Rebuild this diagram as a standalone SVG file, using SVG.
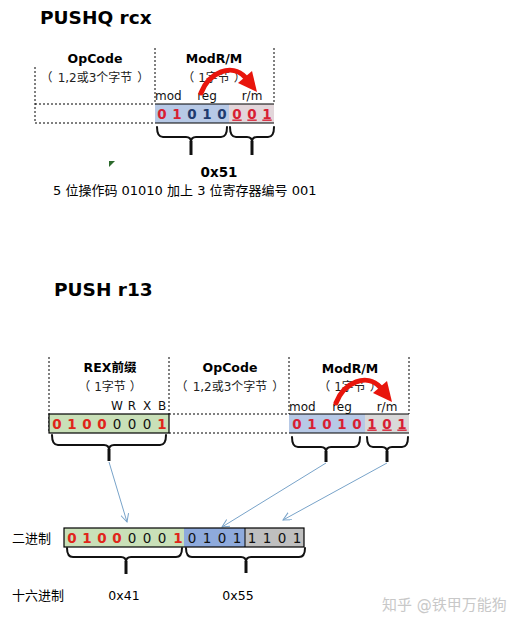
<svg xmlns="http://www.w3.org/2000/svg" width="523" height="628" viewBox="0 0 523 628">
<defs>
<style>
.t{font-family:"DejaVu Sans","Noto Sans CJK SC",sans-serif;fill:#000}
.title{font-size:18.5px;font-weight:bold}
.hd{font-size:12.5px;font-weight:bold;text-anchor:middle}
.sub{font-size:12px;text-anchor:middle;fill:#222}
.p{font-family:"Noto Sans CJK SC",sans-serif}
.lab{font-size:12px;fill:#111}
.bit{font-size:13.5px;font-weight:bold;text-anchor:middle}
.bitr{font-size:13.5px;text-anchor:middle;fill:#111}
.red{fill:#d81f33}
.rex{fill:#e0261a}
.dblue{fill:#1f3b6e}
.u{text-decoration:underline}
.dot{stroke:#000;stroke-width:1;stroke-dasharray:2,2;fill:none}
.box{stroke:#000;stroke-width:1.2}
.brace{stroke:#111;stroke-width:2;fill:none;stroke-linecap:round}
.stem{stroke:#111;stroke-width:3}
.conn{stroke:#78a3c9;stroke-width:1;fill:none}
.rarrow{stroke:#e8150c;stroke-width:5;fill:none;stroke-linecap:round}
</style>
<marker id="oa" markerWidth="10" markerHeight="10" refX="8" refY="4" orient="auto" markerUnits="userSpaceOnUse">
<path d="M0,0 L8,4 L0,8" fill="none" stroke="#78a3c9" stroke-width="1"/>
</marker>
<g id="redarrow">
<path class="rarrow" d="M201,93 C209,72 232,63 245,77"/>
<polygon points="257,92 238,83 252,71" fill="#e8150c"/>
</g>
</defs>
<rect width="523" height="628" fill="#fff"/>

<g id="top-title"><text class="t title" x="40" y="24">PUSHQ rcx</text></g>

<g id="top-opcode">
<path class="dot" d="M35,67 V123 M155,48 V104 M35,104 H155 M35,123 H155"/>
<text class="t hd" x="95" y="63">OpCode</text>
<text class="t sub" x="95" y="82"><tspan class="p">（</tspan><tspan dx="5">1,2或3个字节</tspan><tspan class="p" dx="5">）</tspan></text>
</g>

<g id="top-modrm">
<path class="dot" d="M274,48 V104"/>
<text class="t hd" x="214" y="63">ModR/M</text>
<text class="t sub" x="214" y="82"><tspan class="p">（</tspan><tspan dx="4">1字节</tspan><tspan class="p" dx="4">）</tspan></text>
<text class="t lab" x="155" y="100">mod</text>
<text class="t lab" x="207" y="100" text-anchor="middle">reg</text>
<text class="t lab" x="252" y="100" text-anchor="middle">r/m</text>
<rect x="155" y="104" width="74" height="19" fill="#b7c9e6"/>
<rect x="229" y="104" width="45" height="19" fill="#e2d6da"/>
<path d="M155,104 H274 M155,123 H274" stroke="#000" stroke-width="1.2"/>
<text class="t bit red" x="162" y="118.5">0</text>
<text class="t bit red" x="177" y="118.5">1</text>
<text class="t bit dblue" x="192" y="118.5">0</text>
<text class="t bit dblue" x="207" y="118.5">1</text>
<text class="t bit dblue" x="222" y="118.5">0</text>
<text class="t bit red u" x="237" y="118.5">0</text>
<text class="t bit red u" x="252" y="118.5">0</text>
<text class="t bit red u" x="267" y="118.5">1</text>
<use href="#redarrow"/>
</g>

<g id="top-braces">
<path class="brace" d="M157,127 Q157,137 163,137 H186 Q191,137 191,142 M191,142 Q191,137 196,137 H221 Q227,137 227,127"/>
<line class="stem" x1="191" y1="141" x2="191" y2="155"/>
<path class="brace" d="M230,127 Q230,137 236,137 H247 Q252,137 252,142 M252,142 Q252,137 257,137 H268 Q274,137 274,127"/>
<line class="stem" x1="252" y1="141" x2="252" y2="155"/>
</g>

<g id="top-notes">
<polygon points="109,161 115,161 109,167" fill="#2d6a2d"/>
<text class="t" x="219" y="177" font-size="13.5" font-weight="bold" text-anchor="middle">0x51</text>
<text class="t" x="53" y="195" font-size="13">5 位操作码 01010 加上 3 位寄存器编号 001</text>
</g>

<g id="bottom-title"><text class="t title" x="54" y="296">PUSH r13</text></g>

<g id="rex">
<path class="dot" d="M49,357 V433 M169,357 V414"/>
<text class="t hd" x="110" y="372">REX前缀</text>
<text class="t sub" x="110" y="391"><tspan class="p">（</tspan><tspan dx="4">1字节</tspan><tspan class="p" dx="4">）</tspan></text>
<text class="t lab" x="117" y="410" text-anchor="middle">W</text>
<text class="t lab" x="132" y="410" text-anchor="middle">R</text>
<text class="t lab" x="147" y="410" text-anchor="middle">X</text>
<text class="t lab" x="162" y="410" text-anchor="middle">B</text>
<rect class="box" x="49" y="414" width="120" height="19" fill="#c9e0b8"/>
<text class="t bit rex" x="57" y="428.5">0</text>
<text class="t bit rex" x="72" y="428.5">1</text>
<text class="t bit rex" x="87" y="428.5">0</text>
<text class="t bit rex" x="102" y="428.5">0</text>
<text class="t bitr" x="117" y="428.5">0</text>
<text class="t bitr" x="132" y="428.5">0</text>
<text class="t bitr" x="147" y="428.5">0</text>
<text class="t bit rex" x="162" y="428.5">1</text>
</g>

<g id="opcode">
<path class="dot" d="M169,414 H289 M169,433 H289 M289,357 V414"/>
<text class="t hd" x="230" y="372">OpCode</text>
<text class="t sub" x="230" y="391"><tspan class="p">（</tspan><tspan dx="5">1,2或3个字节</tspan><tspan class="p" dx="5">）</tspan></text>
</g>

<g id="modrm">
<path class="dot" d="M409,357 V414"/>
<text class="t hd" x="350" y="373">ModR/M</text>
<text class="t sub" x="350" y="391"><tspan class="p">（</tspan><tspan dx="4">1字节</tspan><tspan class="p" dx="4">）</tspan></text>
<text class="t lab" x="289" y="411">mod</text>
<text class="t lab" x="342" y="411" text-anchor="middle">reg</text>
<text class="t lab" x="387" y="411" text-anchor="middle">r/m</text>
<rect x="289" y="414" width="76" height="19" fill="#b7c9e6"/>
<rect x="365" y="414" width="44" height="19" fill="#d9d9d9"/>
<path d="M289,414 H409 M289,433 H409" stroke="#000" stroke-width="1.2"/>
<text class="t bit red" x="297" y="428.5">0</text>
<text class="t bit red" x="312" y="428.5">1</text>
<text class="t bit red" x="327" y="428.5">0</text>
<text class="t bit red" x="342" y="428.5">1</text>
<text class="t bit red" x="357" y="428.5">0</text>
<text class="t bit red u" x="372" y="428.5">1</text>
<text class="t bit red u" x="387" y="428.5">0</text>
<text class="t bit red u" x="402" y="428.5">1</text>
<use href="#redarrow" transform="translate(135,310)"/>
</g>

<g id="bottom-braces">
<path class="brace" d="M52,435 Q52,445 58,445 H104 Q109,445 109,450 M109,450 Q109,445 114,445 H160 Q166,445 166,435"/>
<line class="stem" x1="109" y1="449" x2="109" y2="461"/>
<path class="brace" d="M292,437 Q292,447 298,447 H321 Q326,447 326,452 M326,452 Q326,447 331,447 H354 Q360,447 360,437"/>
<line class="stem" x1="326" y1="451" x2="326" y2="462"/>
<path class="brace" d="M367,437 Q367,447 373,447 H382 Q387,447 387,452 M387,452 Q387,447 392,447 H402 Q408,447 408,437"/>
<line class="stem" x1="387" y1="451" x2="387" y2="462"/>
</g>

<g id="connectors">
<line class="conn" x1="109" y1="462" x2="127" y2="522" marker-end="url(#oa)"/>
<line class="conn" x1="326" y1="463" x2="222" y2="527" marker-end="url(#oa)"/>
<line class="conn" x1="387" y1="463" x2="283" y2="520" marker-end="url(#oa)"/>
</g>

<g id="binary">
<text class="t" x="12" y="543" font-size="13">二进制</text>
<rect x="64" y="528" width="120" height="19" fill="#c9e0b8"/>
<rect x="184" y="528" width="61" height="19" fill="#8eaadc"/>
<rect x="245" y="528" width="59" height="19" fill="#bfbfbf"/>
<rect x="64" y="528" width="240" height="19" fill="none" stroke="#000" stroke-width="1.2"/>
<line x1="245" y1="528" x2="245" y2="547" stroke="#000" stroke-width="1"/>
<text class="t bit rex" x="72" y="542.5">0</text>
<text class="t bit rex" x="87" y="542.5">1</text>
<text class="t bit rex" x="102" y="542.5">0</text>
<text class="t bit rex" x="117" y="542.5">0</text>
<text class="t bitr" x="132" y="542.5">0</text>
<text class="t bitr" x="147" y="542.5">0</text>
<text class="t bitr" x="162" y="542.5">0</text>
<text class="t bit rex" x="178" y="542.5">1</text>
<text class="t bitr" x="192" y="542.5">0</text>
<text class="t bitr" x="207" y="542.5">1</text>
<text class="t bitr" x="222" y="542.5">0</text>
<text class="t bitr" x="237" y="542.5">1</text>
<text class="t bitr" x="252" y="542.5">1</text>
<text class="t bitr" x="267" y="542.5">1</text>
<text class="t bitr" x="282" y="542.5">0</text>
<text class="t bitr" x="297" y="542.5">1</text>
<path class="brace" d="M67,548 Q67,557 73,557 H121 Q126,557 126,562 M126,562 Q126,557 131,557 H176 Q182,557 182,548"/>
<line class="stem" x1="126" y1="561" x2="126" y2="574"/>
<path class="brace" d="M186,548 Q186,557 192,557 H241 Q246,557 246,562 M246,562 Q246,557 251,557 H299 Q305,557 305,548"/>
<line class="stem" x1="246" y1="561" x2="246" y2="573"/>
</g>

<g id="hex">
<text class="t" x="12" y="600" font-size="13">十六进制</text>
<text class="t" x="124" y="600" font-size="12.5" text-anchor="middle">0x41</text>
<text class="t" x="238" y="600" font-size="12.5" text-anchor="middle">0x55</text>
</g>

<g id="watermark"><text class="t" x="382" y="610" font-size="15" style="fill:#c8c8c8">知乎 @铁甲万能狗</text></g>
</svg>
